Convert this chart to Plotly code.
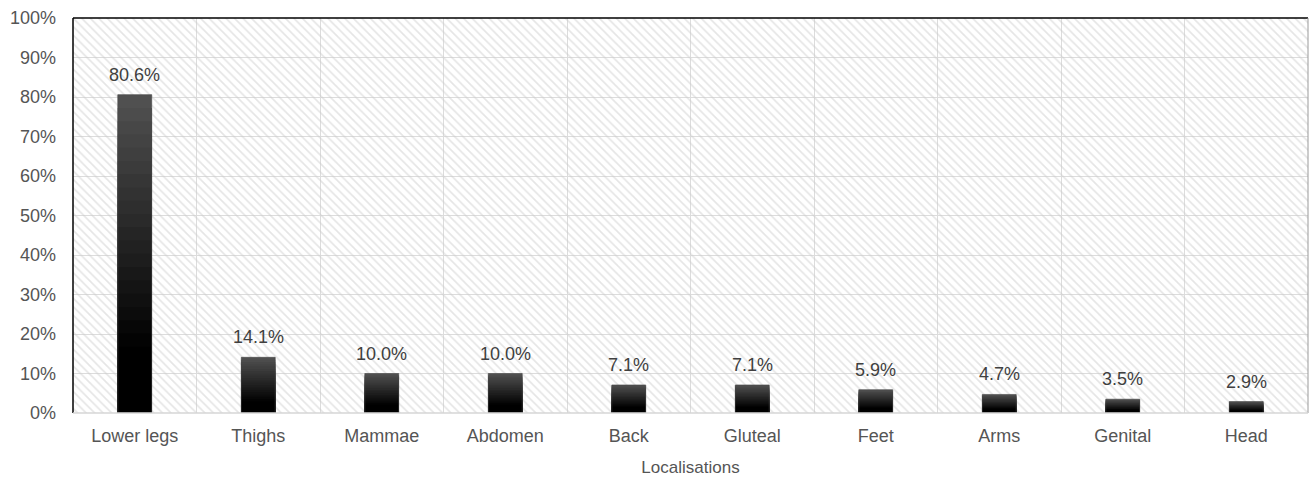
import plotly.graph_objects as go

categories = ["Lower legs", "Thighs", "Mammae", "Abdomen", "Back", "Gluteal", "Feet", "Arms", "Genital", "Head"]
values = [80.6, 14.1, 10.0, 10.0, 7.1, 7.1, 5.9, 4.7, 3.5, 2.9]
labels = [f"{v:.1f}%" for v in values]
y_ticks = list(range(0, 101, 10))
y_max = 100

FONT = "Liberation Sans, Arial, sans-serif"
TXT = "#555555"

fig = go.Figure()

# hatched background cells (one per category, full height)
fig.add_trace(go.Bar(
    x=categories, y=[y_max] * len(categories), width=1,
    marker=dict(color="rgba(0,0,0,0)", line=dict(width=0),
                pattern=dict(shape="\\", size=6, solidity=0.28,
                             fgcolor="#cccccc", bgcolor="rgba(0,0,0,0)")),
    hoverinfo="skip", showlegend=False,
))

# layered bars approximating a dark vertical gradient
N = 24
for i in range(N):
    frac = 1 - i / N
    g = int(round(max(0.0, 80 * (frac - 0.22) / 0.78)))
    fig.add_trace(go.Bar(
        x=categories, y=[v * frac for v in values], width=0.275,
        marker=dict(color=f"rgb({g},{g},{g})", line=dict(width=0)),
        showlegend=False, hoverinfo="skip",
    ))

# outline
fig.add_trace(go.Bar(
    x=categories, y=values, width=0.275,
    marker=dict(color="rgba(0,0,0,0)", line=dict(width=0.6, color="#444")),
    showlegend=False,
))

annotations = [
    dict(x=c, y=v, text=t, showarrow=False, yanchor="bottom", yshift=8,
         font=dict(family=FONT, size=18, color="#404040"))
    for c, v, t in zip(categories, values, labels)
]

fig.update_layout(
    width=1310, height=481,
    margin=dict(l=73, r=2, t=18, b=68),
    paper_bgcolor="white", plot_bgcolor="white",
    barmode="overlay",
    font=dict(family=FONT, size=18, color=TXT),
    annotations=annotations,
    xaxis=dict(
        type="category", tickson="boundaries", showgrid=True,
        gridcolor="#dcdcdc", gridwidth=1, ticks="", showline=False,
        range=[-0.5, len(categories) - 0.5], ticklabelstandoff=10,
        tickfont=dict(family=FONT, size=18, color=TXT),
        title=dict(text="Localisations", font=dict(family=FONT, size=17, color=TXT), standoff=16),
    ),
    yaxis=dict(
        range=[0, y_max], tickvals=y_ticks, ticktext=[f"{t}%" for t in y_ticks],
        showgrid=True, gridcolor="#dcdcdc", gridwidth=1, zeroline=False,
        showline=False, ticks="", ticklabelstandoff=16,
        tickfont=dict(family=FONT, size=18, color=TXT),
    ),
    shapes=[
        dict(type="line", xref="paper", yref="paper", x0=0, x1=1, y0=1, y1=1, line=dict(color="black", width=1.5)),
        dict(type="line", xref="paper", yref="paper", x0=0, x1=0, y0=0, y1=1, line=dict(color="black", width=1.5)),
        dict(type="line", xref="paper", yref="paper", x0=1, x1=1, y0=0, y1=1, line=dict(color="#9a9a9a", width=1)),
        dict(type="line", xref="paper", yref="paper", x0=0, x1=1, y0=0, y1=0, line=dict(color="#d6d6d6", width=1.5)),
    ],
)

fig.write_html("out.html")
